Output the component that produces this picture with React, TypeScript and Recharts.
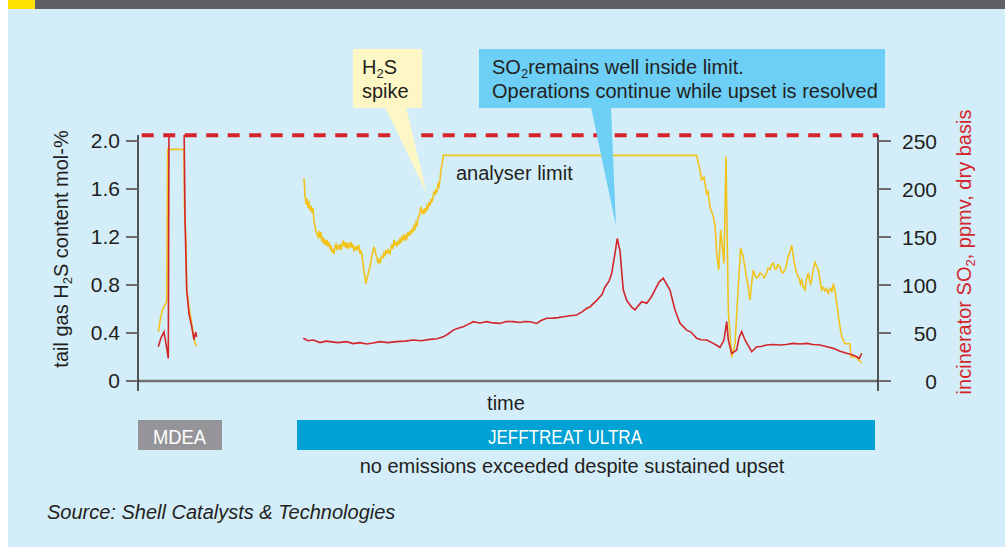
import { LineChart, Line, XAxis, YAxis, ReferenceLine } from 'recharts';

// time is in arbitrary units along the run (0 = left axis, 740 = right axis)
const h2sTime = [
  20.3, 22, 24.3, 26, 28.7, 29.7, 46, 46.5, 48, 48.7, 51, 53.7, 56, 58,
  100,
  166, 167, 168, 169, 170, 171, 172, 173, 174, 175, 176, 177, 178, 179, 180, 181, 182, 183, 184, 185,
  186, 187, 188, 189, 190, 191, 192, 193, 194, 195, 196, 197, 198, 199, 200, 201, 202, 203, 204, 205,
  206, 207, 208, 209, 210, 211, 212, 213, 214, 215, 216, 217, 218, 219, 220, 221, 222, 223, 224, 225,
  226, 227, 228, 229, 230, 231, 232, 233, 234, 235, 236, 237, 238, 239, 240, 241, 242, 243, 244, 245,
  246, 247, 248, 249, 250, 251, 252, 253, 254, 255, 256, 257, 258, 259, 260, 261, 262, 263, 264, 265,
  266, 267, 268, 269, 270, 271, 272, 273, 274, 275, 276, 277, 278, 279, 280, 281, 282, 283, 284, 285,
  286, 287, 288, 289, 290, 291, 292, 293, 294, 295, 296, 297, 298, 299, 300, 301, 302, 303, 304, 305.3,
  558.7, 562, 563.7, 566, 568.7, 570, 572, 575.3, 577, 578.7, 580.7, 582.7, 584, 586, 588, 589, 590.3,
  593.7, 597, 600, 602.7, 604, 605, 606, 607, 608, 610, 612, 613.5, 615.3, 617, 618.5, 620.3, 622, 624,
  626, 628.7, 630, 632, 633.5, 635.3, 636.5, 638, 640, 642, 643.5, 645, 647, 648.5, 650.3, 652, 653.7,
  655, 656, 657.5, 658.7, 660, 661, 662.5, 663.7, 665, 667, 668.5, 670.3, 671.5, 672.7, 674, 675, 677,
  678.5, 680.3, 682, 683.7, 685, 687, 688.5, 690.3, 691.5, 693, 694, 695.3, 697, 698.7, 701, 703.7, 707,
  712, 713, 718.7, 721, 723.7,
];
const h2sValue: (number | null)[] = [
  0.41, 0.5, 0.59, 0.62, 0.66, 1.93, 1.93, 1.45, 1.15, 0.76, 0.62, 0.48, 0.35, 0.29,
  null,
  1.69, 1.55, 1.47, 1.52, 1.44, 1.5, 1.42, 1.46, 1.4, 1.44, 1.33, 1.29, 1.25, 1.22, 1.2, 1.25, 1.19, 1.24, 1.16, 1.2,
  1.14, 1.18, 1.13, 1.175, 1.12, 1.16, 1.1, 1.13, 1.07, 1.1, 1.06, 1.12, 1.14, 1.09, 1.13, 1.1, 1.14, 1.09, 1.13, 1.17,
  1.12, 1.16, 1.11, 1.15, 1.1, 1.14, 1.12, 1.16, 1.11, 1.14, 1.08, 1.12, 1.09, 1.13, 1.1, 1.12, 1.06, 1.09, 1.04, 0.98,
  0.92, 0.86, 0.81, 0.86, 0.88, 0.93, 0.95, 1.0, 1.05, 1.08, 1.12, 1.09, 1.05, 1.02, 0.98, 1.01, 0.98, 1.02, 1.04, 1.03,
  1.07, 1.05, 1.09, 1.06, 1.1, 1.07, 1.06, 1.11, 1.14, 1.1, 1.175, 1.13, 1.16, 1.12, 1.17, 1.14, 1.19, 1.15, 1.2, 1.18,
  1.22, 1.17, 1.21, 1.19, 1.24, 1.21, 1.25, 1.22, 1.27, 1.24, 1.29, 1.27, 1.32, 1.3, 1.36, 1.37, 1.42, 1.45, 1.4, 1.42,
  1.39, 1.44, 1.41, 1.46, 1.44, 1.49, 1.46, 1.52, 1.49, 1.53, 1.58, 1.55, 1.6, 1.57, 1.64, 1.62, 1.68, 1.76, 1.8, 1.88,
  1.88, 1.76, 1.675, 1.7, 1.56, 1.58, 1.45, 1.37, 1.3, 1.06, 0.925, 1.26, 1.15, 0.98, 1.87, 1.3, 0.59,
  0.2, 0.31, 0.75, 1.11, 1.06, 1.05, 0.99, 0.95, 0.88, 0.8, 0.675, 0.8, 0.925, 0.88, 0.86, 0.87, 0.9, 0.89,
  0.86, 0.9, 0.94, 0.93, 0.97, 0.98, 0.94, 0.93, 0.97, 0.95, 0.91, 0.9, 0.925, 0.97, 1.04, 1.08, 1.13,
  1.06, 1.0, 0.94, 0.9, 0.87, 0.86, 0.81, 0.84, 0.79, 0.76, 0.85, 0.9, 0.84, 0.81, 0.86, 0.92, 0.99,
  0.96, 0.925, 0.84, 0.76, 0.78, 0.75, 0.77, 0.73, 0.76, 0.77, 0.74, 0.81, 0.75, 0.65, 0.5, 0.37, 0.31,
  0.31, 0.2, 0.2, 0.17, 0.15,
];

const so2Time = [
  20.3, 23, 26, 28, 30.3, 31, 46, 47, 48.7, 51, 53.7, 56, 57.7, 58.7,
  100,
  165.3, 170, 175.3, 182, 188, 192, 200, 208.7, 215, 222, 228.7, 235, 242, 250, 258.7, 267, 275.3, 283,
  292, 299, 305.3, 310, 315.3, 320, 325.3, 330, 335.3, 342, 348.7, 355, 362, 368, 375.3, 382, 387, 392,
  398.7, 403, 408.7, 415, 420, 425.3, 432, 438.7, 444, 448.7, 452, 453.7, 458.7, 464, 467, 471, 473.7,
  477, 479.3, 481, 482, 484, 485.3, 488.7, 493.7, 497, 500, 503.7, 508.7, 513, 517, 521, 525.3, 528, 532,
  537, 542, 548.7, 553, 558.7, 563, 568.7, 575.3, 579, 582, 586, 588.7, 590.3, 593.7, 598.7, 601, 603.7,
  607, 613.7, 618.7, 623, 628.7, 635, 642, 648, 655.3, 662, 668.7, 675, 682, 688, 695.3, 702, 708.7, 715,
  718.7, 721.3, 723.7,
];
const so2Value: (number | null)[] = [
  35.7, 45, 51, 39, 23.6, 275, 275, 170, 95, 70, 57, 43, 51, 46,
  null,
  44.5, 42, 42.7, 40, 41.5, 41, 40, 41, 39, 40, 38.5, 39.5, 41, 40, 41, 41.5, 42.7, 42,
  43.4, 44, 46, 49, 53, 55, 56.6, 59, 61.8, 60.5, 61.8, 60.5, 60, 62, 61.8, 61, 62, 61.8,
  60, 63, 65.3, 65.5, 66, 67, 68, 68.75, 72, 75.7, 77, 79, 84, 90, 98, 104, 112,
  133, 148.6, 140, 136, 110, 94.8, 84, 77, 74, 78, 82.6, 81, 87, 94.8, 103, 107, 102, 94.8,
  74, 60, 53, 51, 44.5, 43, 42.7, 39.2, 37, 35, 42.7, 61.8, 42.7, 28.8, 32.3, 45, 51.4,
  42.7, 30.5, 35.7, 36, 37.5, 38, 37.5, 38, 39.2, 38.5, 39.2, 38, 37.5, 36, 34, 31, 28.8, 27,
  25.3, 23.6, 28.8,
];

const h2sTicks = [0, 0.4, 0.8, 1.2, 1.6, 2.0];
const so2Ticks = [0, 50, 100, 150, 200, 250];
const so2Limit = 256;

const h2sData = h2sTime.map((t, i) => ({ t, h2s: h2sValue[i] }));
const so2Data = so2Time.map((t, i) => ({ t, so2: so2Value[i] }));

const SANS = "'Liberation Sans', Arial, sans-serif";
const INK = '#231f20';
const RED = '#d3262b';

const RightTick = (props: any) => (
  <text x={props.x + 46} y={props.y} dy="0.36em" textAnchor="end" fill={INK} fontSize={21} fontFamily={SANS}>
    {props.payload.value}
  </text>
);

export default function App() {
  return (
    <div style={{ position: 'absolute', left: 0, top: 0, width: 1005, height: 548, background: '#fff', overflow: 'hidden' }}>
      <div style={{ position: 'absolute', left: 8, top: 9, width: 997, height: 538, background: '#d3edf9' }} />
      <div style={{ position: 'absolute', left: 35, top: 0, width: 970, height: 9, background: '#606064' }} />
      <div style={{ position: 'absolute', left: 8, top: 0, width: 27, height: 9, background: '#ffe100' }} />

      <div style={{ position: 'absolute', left: 0, top: 0 }}>
        <LineChart width={1005} height={548} margin={{ top: 135, right: 67, bottom: 157, left: 78 }}>
          <XAxis type="number" dataKey="t" domain={[0, 740]} hide allowDataOverflow />
          <YAxis
            yAxisId="left"
            orientation="left"
            width={60}
            domain={[-0.0833, 2.05]}
            ticks={h2sTicks}
            allowDataOverflow
            tickFormatter={(v: number) => (v === 0 ? '0' : v.toFixed(1))}
            axisLine={{ stroke: INK, strokeWidth: 1.5 }}
            tickLine={{ stroke: '#6b6b6b', strokeWidth: 2 }}
            tickSize={12}
            tickMargin={6}
            tick={{ fill: INK, fontSize: 21, fontFamily: SANS }}
          />
          <YAxis
            yAxisId="right"
            orientation="right"
            width={60}
            domain={[-10.4167, 256.25]}
            ticks={so2Ticks}
            allowDataOverflow
            axisLine={{ stroke: INK, strokeWidth: 1.5 }}
            tickLine={{ stroke: '#6b6b6b', strokeWidth: 2 }}
            tickSize={13}
            tickMargin={0}
            tick={RightTick}
          />
          <ReferenceLine yAxisId="left" y={0} stroke="#707070" strokeWidth={2.5} />
          <Line
            yAxisId="left"
            data={h2sData}
            dataKey="h2s"
            stroke="#f2c21d"
            strokeWidth={1.6}
            dot={false}
            isAnimationActive={false}
          />
          <Line
            yAxisId="right"
            data={so2Data}
            dataKey="so2"
            stroke={RED}
            strokeWidth={1.6}
            dot={false}
            isAnimationActive={false}
          />
          <ReferenceLine
            yAxisId="right"
            segment={[{ x: 3.7, y: so2Limit }, { x: 740, y: so2Limit }]}
            stroke="#d7232b"
            strokeWidth={4}
            strokeDasharray="12 9.5"
          />
        </LineChart>
      </div>

      <svg width={1005} height={548} style={{ position: 'absolute', left: 0, top: 0, pointerEvents: 'none' }}>
        {/* axis titles */}
        <text transform="translate(68,249) rotate(-90)" textAnchor="middle" fontSize={20} fontFamily={SANS} fill={INK}>
          tail gas H<tspan fontSize={13} dy={4}>2</tspan><tspan dy={-4}>S content mol-%</tspan>
        </text>
        <text transform="translate(971,252) rotate(-90)" textAnchor="middle" fontSize={20} fontFamily={SANS} fill={RED}>
          incinerator SO<tspan fontSize={13} dy={4}>2</tspan><tspan dy={-4}>, ppmv, dry basis</tspan>
        </text>

        {/* H2S spike callout */}
        <polygon points="385,107 406,107 427,194" fill="#fdf7c6" />
        <rect x={353} y={49} width={69} height={59} fill="#fdf7c6" />
        <text x={362} y={74} fontSize={20} fontFamily={SANS} fill={INK}>
          H<tspan fontSize={13} dy={4}>2</tspan><tspan dy={-4}>S</tspan>
        </text>
        <text x={362} y={98} fontSize={20} fontFamily={SANS} fill={INK}>spike</text>

        {/* SO2 callout */}
        <polygon points="591,107 611,107 616,226" fill="#6dcff6" />
        <rect x={479} y={49} width={406} height={59} fill="#6dcff6" />
        <text x={492} y={74} fontSize={20} fontFamily={SANS} fill={INK}>
          SO<tspan fontSize={13} dy={4}>2</tspan><tspan dy={-4}>remains well inside limit.</tspan>
        </text>
        <text x={492} y={98} fontSize={20} fontFamily={SANS} fill={INK}>Operations continue while upset is resolved</text>

        <text x={456} y={180} fontSize={20} fontFamily={SANS} fill={INK}>analyser limit</text>

        <text x={506} y={410} textAnchor="middle" fontSize={20} fontFamily={SANS} fill={INK}>time</text>

        {/* solvent bars */}
        <rect x={138} y={420} width={84} height={30} fill="#959599" />
        <text x={153} y={444} fontSize={20} fontFamily={SANS} fill="#fff" textLength={53} lengthAdjust="spacingAndGlyphs">MDEA</text>
        <rect x={297} y={420} width={578} height={30} fill="#00a1d4" />
        <text x={488} y={444} fontSize={21} fontFamily={SANS} fill="#fff" textLength={154} lengthAdjust="spacingAndGlyphs">JEFFTREAT ULTRA</text>
        <text x={572} y={473} textAnchor="middle" fontSize={20} fontFamily={SANS} fill={INK}>
          no emissions exceeded despite sustained upset
        </text>

        <text x={47} y={519} fontSize={20} fontStyle="italic" fontFamily={SANS} fill={INK}>
          Source: Shell Catalysts &amp; Technologies
        </text>
      </svg>
    </div>
  );
}
